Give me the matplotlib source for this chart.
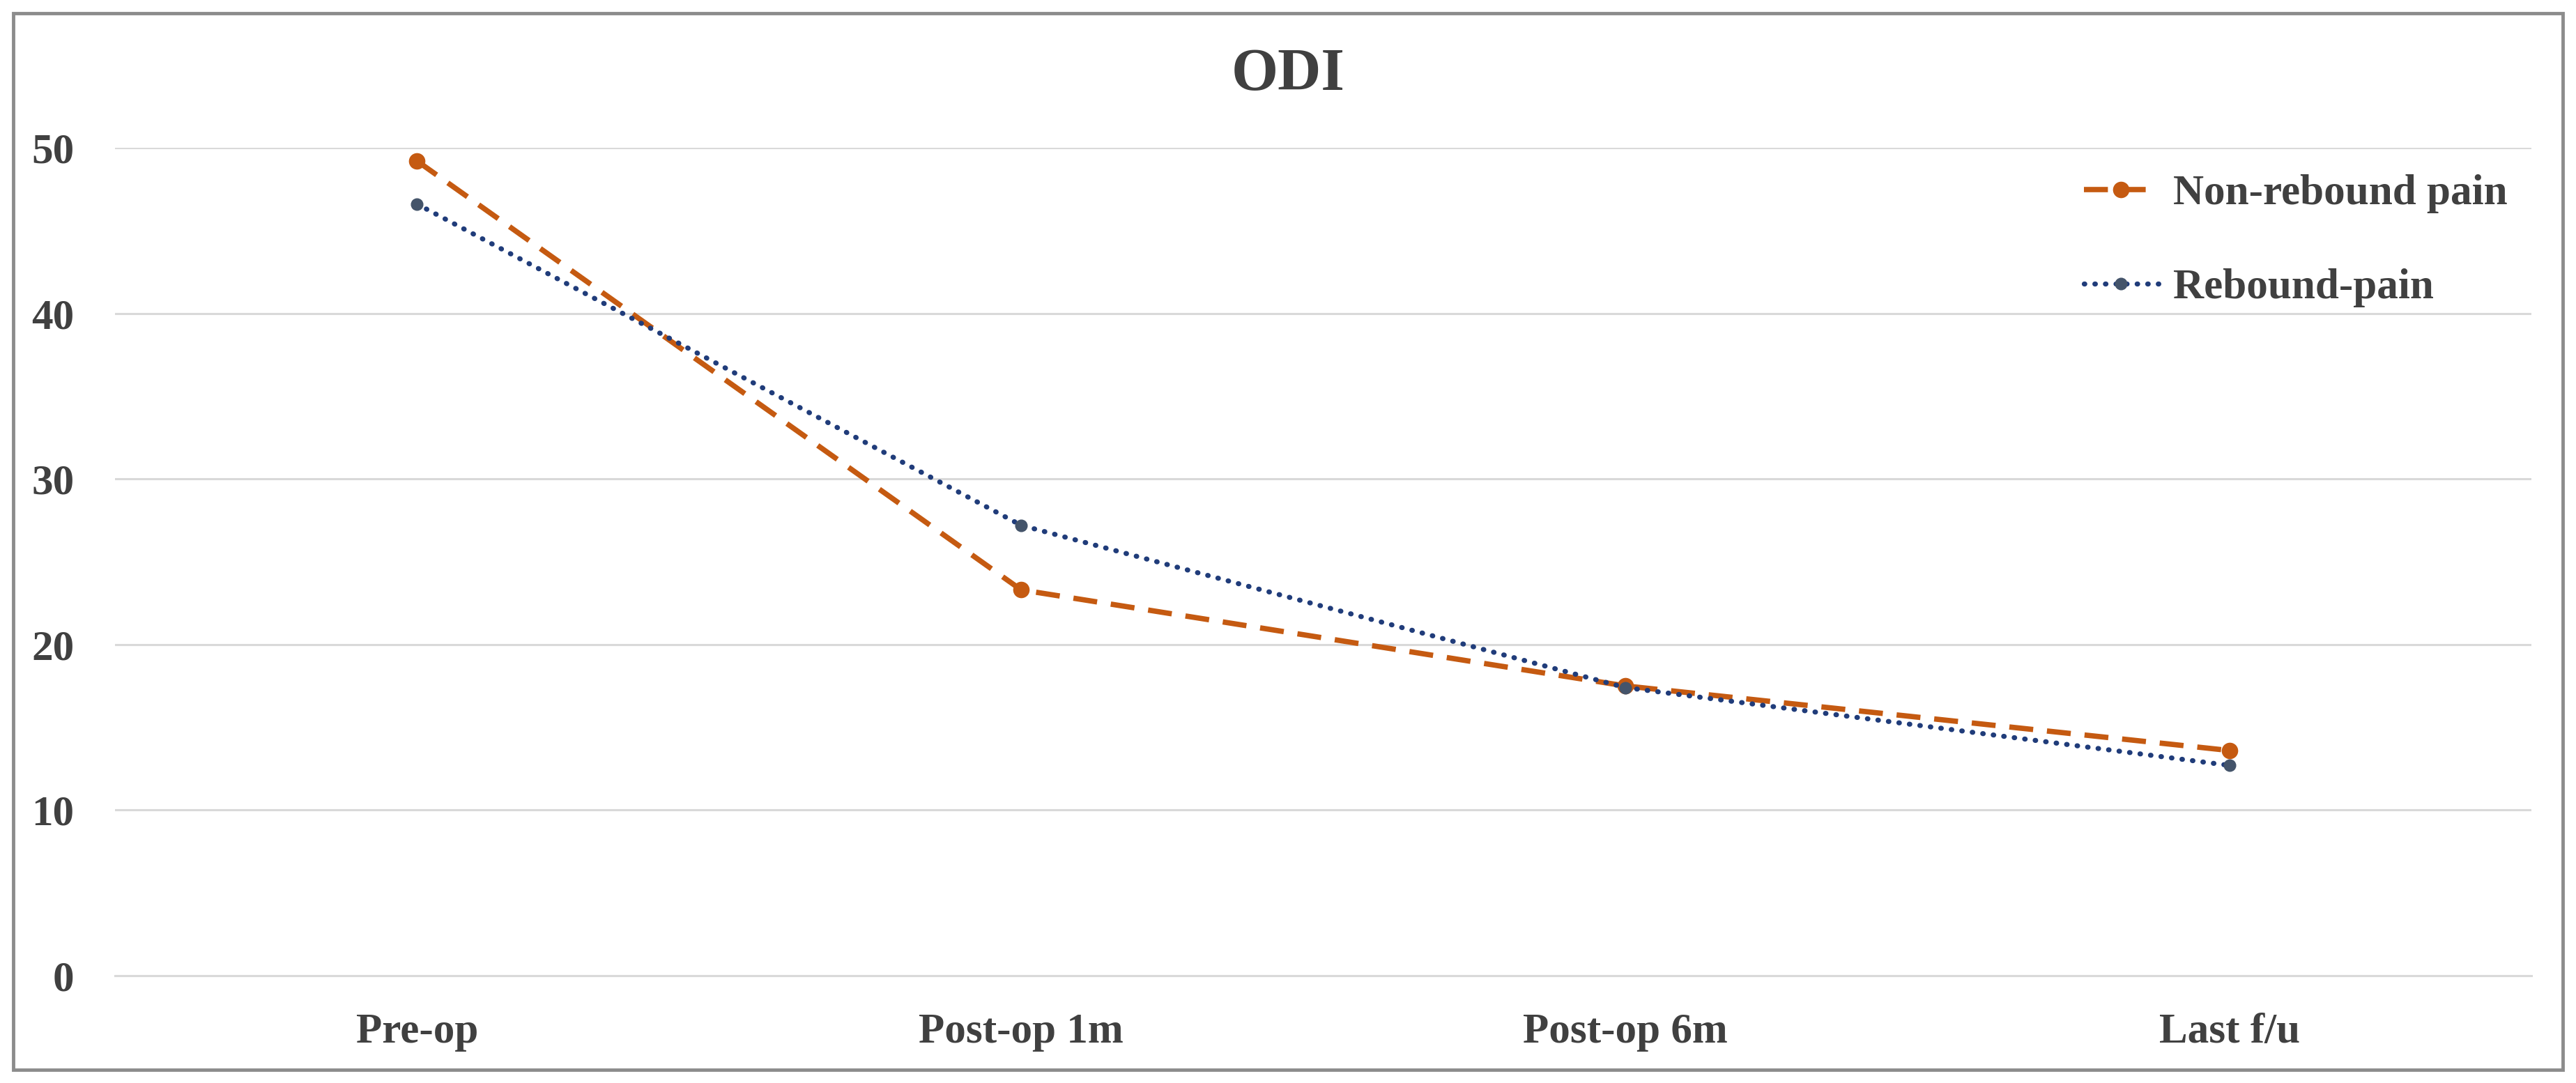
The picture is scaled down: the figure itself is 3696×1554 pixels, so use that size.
import matplotlib.pyplot as plt
from matplotlib.patches import Rectangle

# data
categories = ["Pre-op", "Post-op 1m", "Post-op 6m", "Last f/u"]
non_rebound = [49.2, 23.3, 17.5, 13.6]
rebound = [46.6, 27.2, 17.4, 12.7]
y_ticks = [0, 10, 20, 30, 40, 50]

plt.rcParams['font.family'] = ['Liberation Serif', 'DejaVu Serif']
plt.rcParams['font.weight'] = 'bold'
text_color = '#404040'

fig = plt.figure(figsize=(36.96, 15.54), dpi=100)
ax = fig.add_axes([165 / 3696, 1 - 1400 / 1554, (3632 - 165) / 3696, (1400 - 212) / 1554])

x = list(range(len(categories)))
ax.plot(x, non_rebound, color='#C55A11', lw=5.5, ls=(0, (4.5, 2.6)),
        marker='o', ms=16, label='Non-rebound pain', zorder=3)
ax.plot(x, rebound, color='#203C7A', lw=5.2, ls=(0, (0.1, 2.0)),
        dash_capstyle='round', marker='o', ms=12, mfc='#44546A', mec='#44546A',
        label='Rebound-pain', zorder=4)

ax.set_xlim(-0.5, len(categories) - 0.5)
ax.set_ylim(0, 50)
ax.set_yticks(y_ticks)
ax.set_xticks(x)
ax.set_xticklabels(categories)
ax.yaxis.grid(True, color='#D9D9D9', lw=2.2)
ax.set_axisbelow(True)
for s in ax.spines.values():
    s.set_visible(False)
ax.spines['bottom'].set_visible(True)
ax.spines['bottom'].set_color('#D9D9D9')
ax.spines['bottom'].set_linewidth(2.2)
ax.tick_params(length=0, labelsize=44, colors=text_color, pad=38)
ax.tick_params(axis='y', pad=42)
for lab in ax.get_xticklabels() + ax.get_yticklabels():
    lab.set_fontweight('bold')

fig.text(0.5, 1 - 108 / 1554, "ODI", ha='center', va='center', fontsize=62,
         fontweight='bold', color=text_color)

leg = ax.legend(loc='upper left', bbox_to_anchor=(2990 / 3696, 1 - 250 / 1554),
                bbox_transform=fig.transFigure, frameon=False, fontsize=44,
                handlelength=1.75, labelspacing=1.3, handletextpad=0.35,
                labelcolor=text_color, borderaxespad=0, borderpad=0)
for t in leg.get_texts():
    t.set_fontweight('bold')

# grey frame around the whole picture
fig.patches.append(Rectangle((19 / 3696, 19 / 1554), 1 - 38 / 3696, 1 - 38 / 1554,
                             transform=fig.transFigure, fill=False,
                             edgecolor='#8C8C8C', lw=3.5))

fig.savefig('out.png', dpi=100, facecolor='white')
